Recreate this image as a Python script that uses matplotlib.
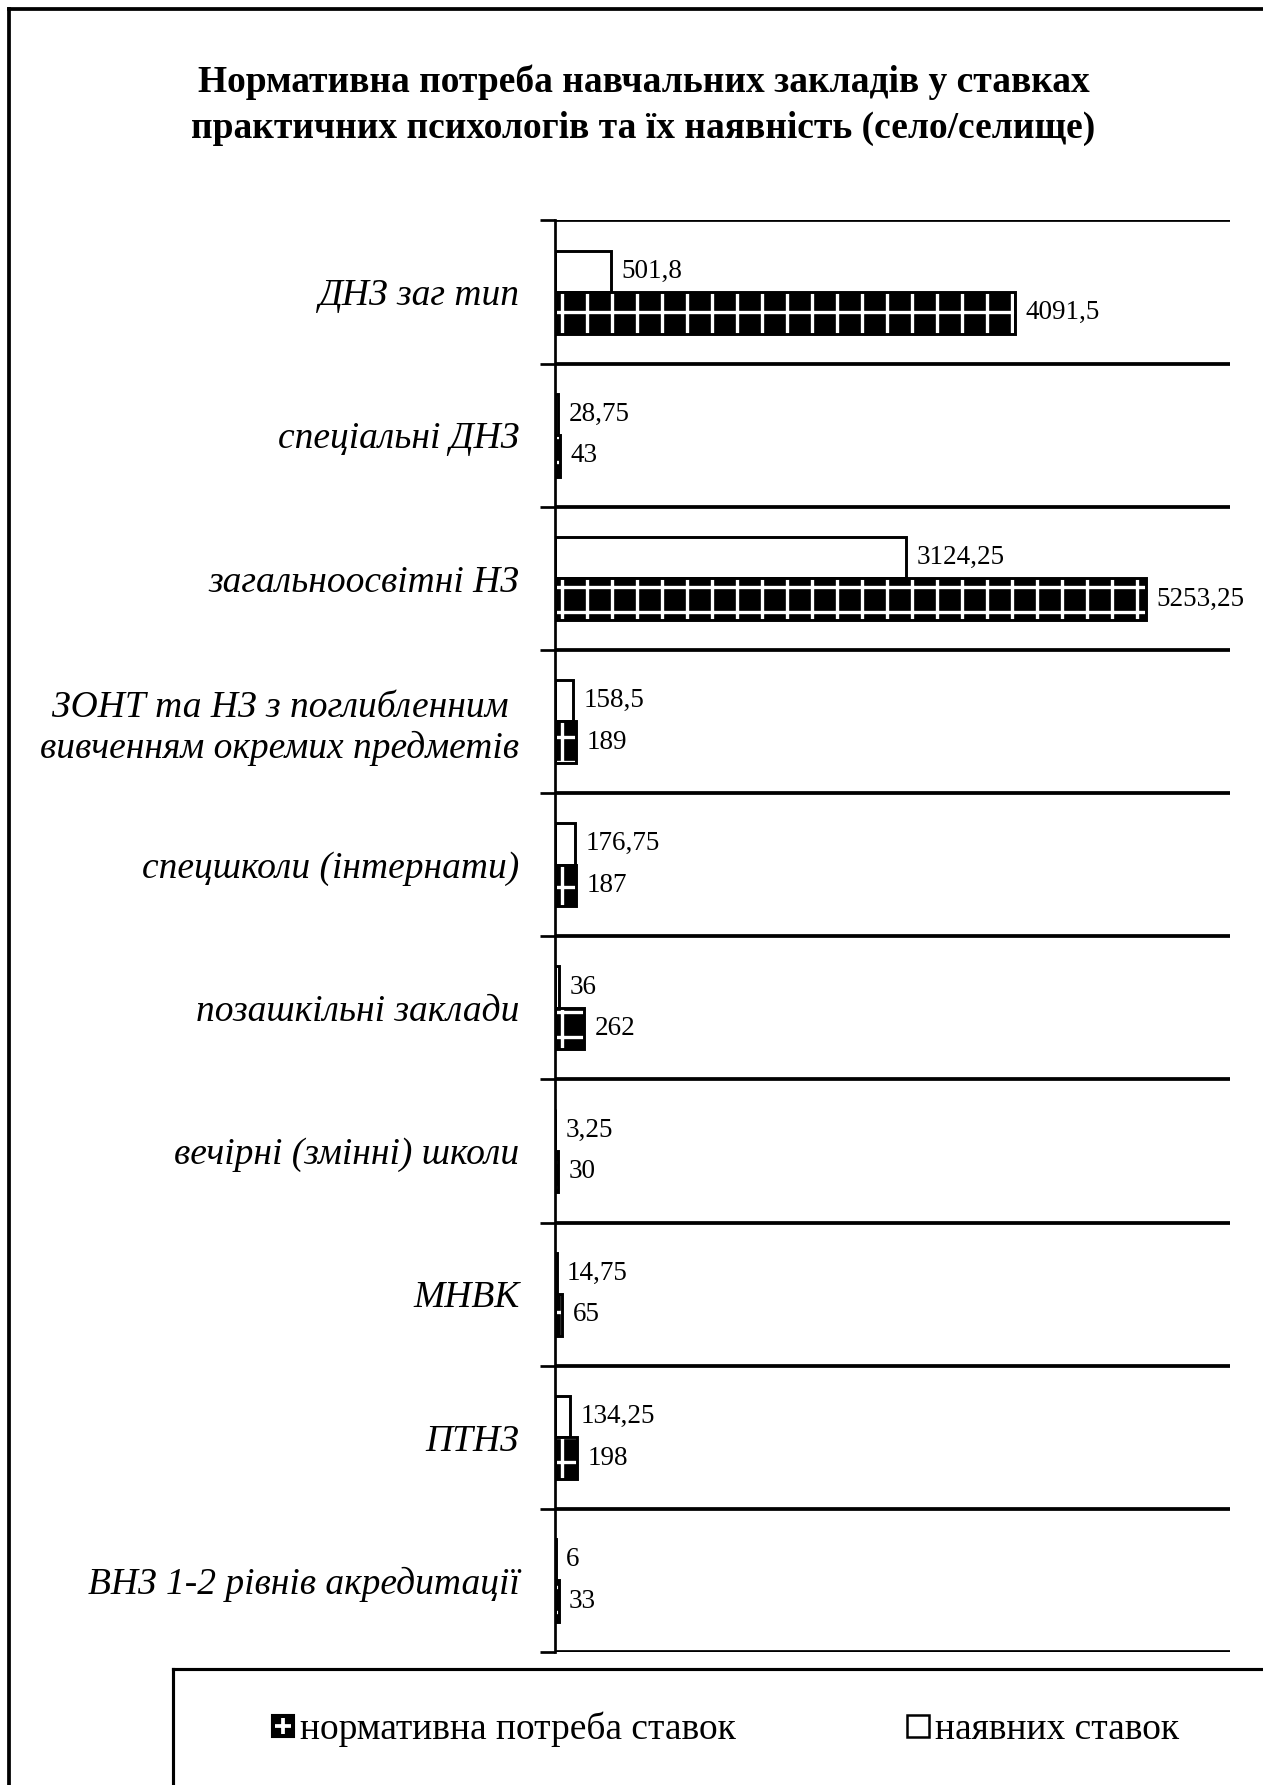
import numpy as np
import matplotlib
matplotlib.use("Agg")
import matplotlib.pyplot as plt
from matplotlib.lines import Line2D
from matplotlib.legend_handler import HandlerTuple

plt.rcParams['font.family'] = ['Liberation Serif', 'DejaVu Serif']
plt.rcParams['hatch.linewidth'] = 1.6

categories = ["ДНЗ заг тип",
              "спеціальні ДНЗ",
              "загальноосвітні НЗ",
              "ЗОНТ та НЗ з поглибленним\nвивченням окремих предметів",
              "спецшколи (інтернати)",
              "позашкільні заклади",
              "вечірні (змінні) школи",
              "МНВК",
              "ПТНЗ",
              "ВНЗ 1-2 рівнів акредитації"]
available = [501.8, 28.75, 3124.25, 158.5, 176.75, 36, 3.25, 14.75, 134.25, 6]
normative = [4091.5, 43, 5253.25, 189, 187, 262, 30, 65, 198, 33]
avail_lbl = ["501,8", "28,75", "3124,25", "158,5", "176,75", "36", "3,25", "14,75", "134,25", "6"]
norm_lbl = ["4091,5", "43", "5253,25", "189", "187", "262", "30", "65", "198", "33"]

title = ("Нормативна потреба навчальних закладів у ставках\n"
         "практичних психологів та їх наявність (село/селище)")
leg_norm = "нормативна потреба ставок"
leg_avail = "наявних ставок"

fig = plt.figure(figsize=(1264 / 150, 1785 / 150), dpi=150)
ax = fig.add_axes([0.439, 0.0745, 0.534, 0.802])

y = np.arange(len(categories))
h = 0.29
# наявних ставок (white) above, нормативна потреба (black, hatched) below
ax.barh(y - h / 2, available, height=h, color='white', edgecolor='black', linewidth=1.4)
ax.barh(y + h / 2, normative, height=h, color='black', edgecolor='white', hatch='+', linewidth=0)
ax.barh(y + h / 2, normative, height=h, fill=False, edgecolor='black', linewidth=1.4)

for i in range(len(categories)):
    ax.annotate(avail_lbl[i], (available[i], y[i] - h / 2), xytext=(5, 0),
                textcoords='offset points', va='center', ha='left', fontsize=13)
    ax.annotate(norm_lbl[i], (normative[i], y[i] + h / 2), xytext=(5, 0),
                textcoords='offset points', va='center', ha='left', fontsize=13)

ax.set_xlim(0, 6000)
ax.set_ylim(len(categories) - 0.5, -0.5)
ax.set_xticks([])

bounds = np.arange(len(categories) + 1) - 0.5
ax.set_yticks(bounds)
ax.set_yticklabels([])
ax.tick_params(axis='y', which='major', length=7, width=1.3, direction='out')
ax.set_yticks(y, minor=True)
ax.set_yticklabels(categories, minor=True, fontsize=18, style='italic',
                   multialignment='center')
ax.tick_params(axis='y', which='minor', length=0, pad=17)
ax.grid(axis='y', which='major', color='black', linewidth=1.8)
ax.set_axisbelow(True)

for s in ['right', 'bottom', 'top']:
    ax.spines[s].set_visible(False)
ax.spines['left'].set_linewidth(1.3)

fig.text(0.509, 0.941, title, ha='center', va='center', fontsize=18,
         fontweight='bold', linespacing=1.4)

# outer frame (cropped) and legend box
fig.add_artist(Line2D([0.007, 0.007], [0, 0.995], color='black', lw=1.8, transform=fig.transFigure))
fig.add_artist(Line2D([0.007, 1], [0.995, 0.995], color='black', lw=1.8, transform=fig.transFigure))
fig.add_artist(Line2D([0.137, 0.137], [0, 0.065], color='black', lw=1.5, transform=fig.transFigure))
fig.add_artist(Line2D([0.137, 1], [0.065, 0.065], color='black', lw=1.5, transform=fig.transFigure))

h_norm = (Line2D([], [], ls='none', marker='s', markersize=11, markerfacecolor='black',
                 markeredgecolor='black'),
          Line2D([], [], ls='none', marker='+', markersize=8, markeredgewidth=1.8,
                 markeredgecolor='white'))
h_avail = Line2D([], [], ls='none', marker='s', markersize=11, markerfacecolor='white',
                 markeredgecolor='black', markeredgewidth=1.2)
fig.legend([h_norm, h_avail], [leg_norm, leg_avail], loc='center',
           bbox_to_anchor=(0.573, 0.031), ncol=2, frameon=False, fontsize=18,
           handler_map={tuple: HandlerTuple(ndivide=1, pad=0)},
           handlelength=0.7, handletextpad=0.1, columnspacing=4.5)

fig.savefig("out.png", dpi=150)
